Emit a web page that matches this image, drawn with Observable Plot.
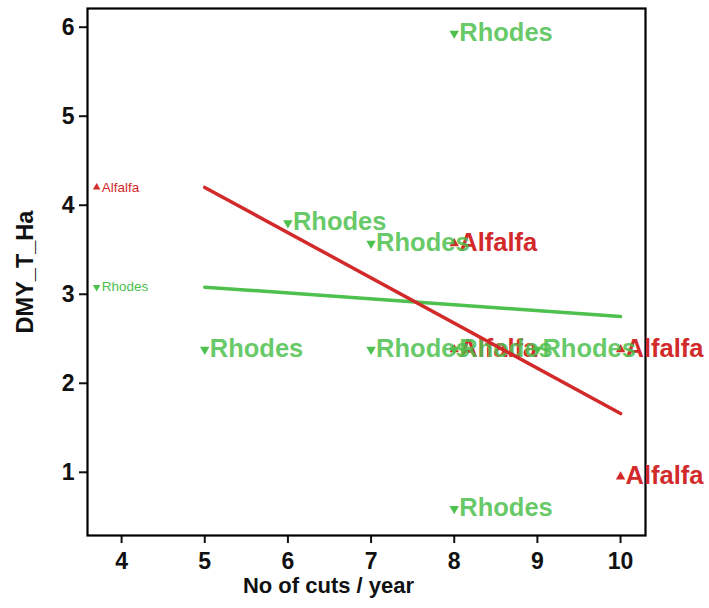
<!DOCTYPE html>
<html>
<head>
<meta charset="utf-8">
<script src="https://cdn.jsdelivr.net/npm/d3@7"></script>
<script src="https://cdn.jsdelivr.net/npm/@observablehq/plot@0.6"></script>
<style>
  html, body { margin: 0; padding: 0; background: #fff; }
  #chart svg { display: block; }
</style>
</head>
<body>
<div id="chart"></div>
<script>
// Dry matter yield (t/ha) by number of cuts per year
const rhodesCuts = [8, 6, 7, 5, 7, 8, 9, 8];
const rhodesDMY = [5.93, 3.80, 3.57, 2.38, 2.38, 2.38, 2.38, 0.59];
const alfalfaCuts = [8, 8, 10, 10];
const alfalfaDMY = [3.57, 2.38, 2.38, 0.95];

// Fitted linear trends, evaluated at the ends of the observed range
const fitCuts = [5, 10];
const alfalfaFitDMY = [4.20, 1.66];
const rhodesFitDMY = [3.08, 2.75];

// Species keys placed at the left edge of the panel
const keyCuts = [3.7, 3.7];
const keyDMY = [4.20, 3.08];
const keySpecies = ["Alfalfa", "Rhodes"];

const xTicks = [4, 5, 6, 7, 8, 9, 10];
const yTicks = [1, 2, 3, 4, 5, 6];

const GREEN = "#4dc04d";
const RED = "#d22a2a";
const colorOf = s => s === "Alfalfa" ? RED : GREEN;

const rhodes = rhodesCuts.map((c, i) => ({cuts: c, dmy: rhodesDMY[i], species: "Rhodes"}));
const alfalfa = alfalfaCuts.map((c, i) => ({cuts: c, dmy: alfalfaDMY[i], species: "Alfalfa"}));
const keys = keyCuts.map((c, i) => ({cuts: c, dmy: keyDMY[i], species: keySpecies[i]}));
const alfalfaFit = fitCuts.map((c, i) => ({cuts: c, dmy: alfalfaFitDMY[i]}));
const rhodesFit = fitCuts.map((c, i) => ({cuts: c, dmy: rhodesFitDMY[i]}));

const font = "'Liberation Sans', Arial, sans-serif";

const chart = Plot.plot({
  width: 709,
  height: 608,
  marginLeft: 87,
  marginRight: 64,
  marginTop: 8,
  marginBottom: 73,
  style: {fontFamily: font, fontSize: "23px", fontWeight: "bold", color: "#111", background: "#fff"},
  x: {domain: [3.59, 10.3], ticks: xTicks, label: null},
  y: {domain: [0.29, 6.21], ticks: yTicks, label: null},
  marks: [
    Plot.axisX({ticks: xTicks, tickSize: 8, tickPadding: 9, tickFormat: d => String(d), strokeWidth: 2, label: null}),
    Plot.axisY({ticks: yTicks, tickSize: 8, tickPadding: 5, tickFormat: d => String(d), strokeWidth: 2, label: null}),
    Plot.frame({stroke: "#000", strokeWidth: 2.2}),

    // Alfalfa observations
    Plot.dot(alfalfa, {x: "cuts", y: "dmy", symbol: "triangle", r: 3.5, fill: RED, stroke: "none"}),
    Plot.text(alfalfa, {x: "cuts", y: "dmy", text: "species", fill: RED, textAnchor: "start", dx: 5, dy: -1,
      fontSize: 25.5, fontWeight: "bold", fontFamily: font}),

    // Rhodes observations
    Plot.dot(rhodes, {x: "cuts", y: "dmy", symbol: "triangle", rotate: 180, r: 3.5, fill: GREEN, stroke: "none"}),
    Plot.text(rhodes, {x: "cuts", y: "dmy", text: "species", fill: GREEN, fillOpacity: 0.85, textAnchor: "start", dx: 5, dy: -1,
      fontSize: 25.5, fontWeight: "bold", fontFamily: font}),

    // Species keys
    Plot.dot(keys, {x: "cuts", y: "dmy", symbol: "triangle", rotate: d => d.species === "Rhodes" ? 180 : 0, r: 2.8,
      fill: d => colorOf(d.species), stroke: "none"}),
    Plot.text(keys, {x: "cuts", y: "dmy", text: "species", fill: d => colorOf(d.species), textAnchor: "start", dx: 5,
      fontSize: 13.5, fontWeight: "normal", fontFamily: font}),

    // Trend lines
    Plot.line(rhodesFit, {x: "cuts", y: "dmy", stroke: GREEN, strokeWidth: 3.5}),
    Plot.line(alfalfaFit, {x: "cuts", y: "dmy", stroke: RED, strokeWidth: 3.5}),

    // Axis titles
    Plot.text(["DMY_T_Ha"], {frameAnchor: "left", rotate: -90, dx: -62, text: d => d, textAnchor: "middle",
      fontSize: 23.5, fontWeight: "bold", fontFamily: font, fill: "#111"}),
    Plot.text(["No of cuts / year"], {frameAnchor: "bottom", dx: -38, dy: 57, text: d => d, textAnchor: "middle",
      fontSize: 22, fontWeight: "bold", fontFamily: font, fill: "#111"})
  ]
});

document.getElementById("chart").appendChild(chart);
</script>
</body>
</html>
